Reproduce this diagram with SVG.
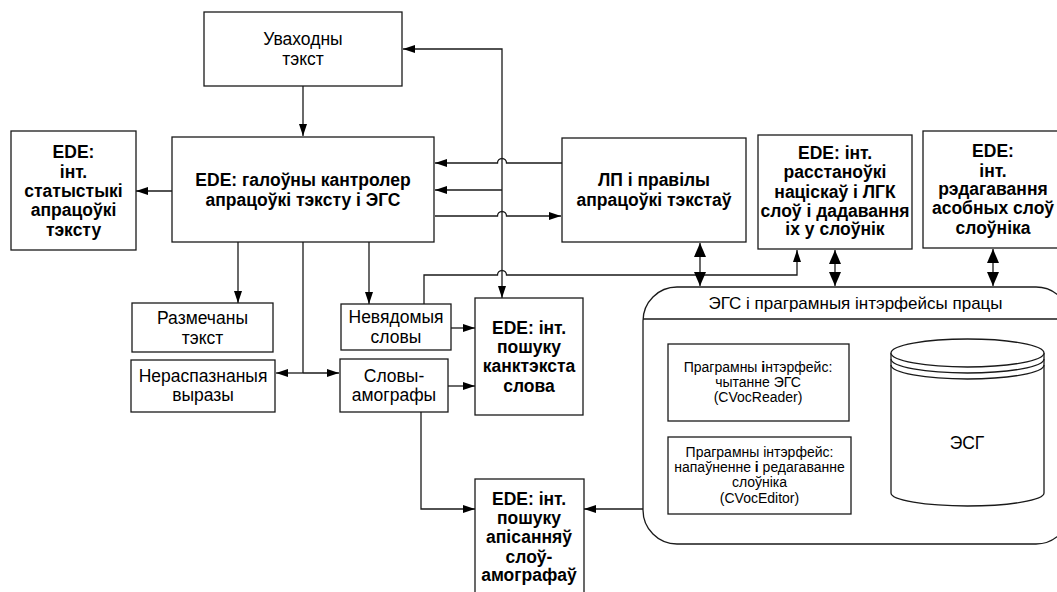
<svg xmlns="http://www.w3.org/2000/svg" width="1057" height="592" viewBox="0 0 1057 592">
<style>
.box{fill:#fff;stroke:#1a1a1a;stroke-width:1.3}
.ln{fill:none;stroke:#1a1a1a;stroke-width:1.3}
.b{font-family:"Liberation Sans",Arial,sans-serif;font-weight:bold;font-size:17.5px;text-anchor:middle;fill:#000}
.r{font-family:"Liberation Sans",Arial,sans-serif;font-size:17.5px;text-anchor:middle;fill:#000}
.h{font-family:"Liberation Sans",Arial,sans-serif;font-size:17px;text-anchor:middle;fill:#000}
.s{font-family:"Liberation Sans",Arial,sans-serif;font-size:14px;text-anchor:middle;fill:#000}
</style>
<defs>
<marker id="a" markerUnits="userSpaceOnUse" markerWidth="12" markerHeight="8" refX="12" refY="4" orient="auto-start-reverse"><path d="M0,0 L12,4 L0,8 z" fill="#000"/></marker>
<marker id="d" markerUnits="userSpaceOnUse" markerWidth="14" markerHeight="12" refX="14" refY="6" orient="auto-start-reverse"><path d="M0,0 L14,6 L0,12 z" fill="#000"/></marker>
</defs>
<rect width="1057" height="592" fill="#fff"/>

<g id="connectors">
<path class="ln" d="M303,86 V136" marker-end="url(#a)"/>
<path class="ln" d="M172,191 H136" marker-end="url(#a)"/>
<path class="ln" d="M562,163 H506.5 A4.5,4.5 0 0 0 497.5,163 H435" marker-end="url(#a)"/>
<path class="ln" d="M435,216 H497.5 A4.5,4.5 0 0 1 506.5,216 H561" marker-end="url(#a)"/>
<path class="ln" d="M502,190 V49 H403" marker-end="url(#a)"/>
<path class="ln" d="M502,190 H435" marker-end="url(#a)"/>
<path class="ln" d="M502,190 V298" marker-end="url(#a)"/>
<path class="ln" d="M238,242 V303" marker-end="url(#a)"/>
<path class="ln" d="M303,242 V373"/>
<path class="ln" d="M303,373 H276" marker-end="url(#a)"/>
<path class="ln" d="M303,373 H339" marker-end="url(#a)"/>
<path class="ln" d="M369,242 V304" marker-end="url(#a)"/>
<path class="ln" d="M424,304 V275 H497.5 A4.5,4.5 0 0 1 506.5,275 H797 V250" marker-end="url(#a)"/>
<path class="ln" d="M451,328 H475" marker-end="url(#a)"/>
<path class="ln" d="M448,386 H475" marker-end="url(#a)"/>
<path class="ln" d="M421,412 V509 H475" marker-end="url(#a)"/>
<path class="ln" d="M643,509 H584" marker-end="url(#a)"/>
<path class="ln" d="M700,243 V286" marker-start="url(#d)" marker-end="url(#d)"/>
<path class="ln" d="M835,250 V286" marker-start="url(#d)" marker-end="url(#d)"/>
<path class="ln" d="M993,249 V286" marker-start="url(#d)" marker-end="url(#d)"/>
<path class="ln" d="M851,456 H868 V423 H890" marker-end="url(#a)"/>
<path class="ln" d="M868,423 V402 H850" marker-end="url(#a)"/>
</g>

<g id="input">
<rect class="box" x="204" y="12" width="198" height="74"/>
<text class="r" x="303" y="45">Уваходны</text>
<text class="r" x="303" y="65">тэкст</text>
</g>

<g id="main">
<rect class="box" x="172" y="137" width="262" height="105"/>
<text class="b" x="303" y="186">EDE: галоўны кантролер</text>
<text class="b" x="303" y="206">апрацоўкі тэксту і ЭГС</text>
</g>

<g id="stats">
<rect class="box" x="11" y="131" width="125" height="119"/>
<text class="b" x="73.5" y="158">EDE:</text>
<text class="b" x="73.5" y="178">інт.</text>
<text class="b" x="73.5" y="197">статыстыкі</text>
<text class="b" x="73.5" y="216">апрацоўкі</text>
<text class="b" x="73.5" y="236">тэксту</text>
</g>

<g id="lp">
<rect class="box" x="562" y="138" width="184" height="104"/>
<text class="b" x="654" y="186">ЛП і правілы</text>
<text class="b" x="654" y="206">апрацоўкі тэкстаў</text>
</g>

<g id="stress">
<rect class="box" x="758" y="135" width="154" height="114"/>
<text class="b" x="835" y="159">EDE: інт.</text>
<text class="b" x="835" y="178">расстаноўкі</text>
<text class="b" x="835" y="198">націскаў і ЛГК</text>
<text class="b" x="835" y="217">слоў і дадавання</text>
<text class="b" x="835" y="235">іх у слоўнік</text>
</g>

<g id="edit">
<rect class="box" x="923" y="131" width="150" height="117"/>
<text class="b" x="993" y="157">EDE:</text>
<text class="b" x="993" y="177">інт.</text>
<text class="b" x="993" y="195">рэдагавання</text>
<text class="b" x="993" y="214">асобных слоў</text>
<text class="b" x="993" y="234">слоўніка</text>
</g>

<g id="marked">
<rect class="box" x="132" y="303" width="141" height="49"/>
<text class="r" x="202.5" y="324">Размечаны</text>
<text class="r" x="202.5" y="344">тэкст</text>
</g>

<g id="unrecognized">
<rect class="box" x="131" y="360" width="144" height="52"/>
<text class="r" x="203" y="382">Нераспазнаныя</text>
<text class="r" x="203" y="401">выразы</text>
</g>

<g id="unknown">
<rect class="box" x="341" y="304" width="110" height="46"/>
<text class="r" x="396" y="323">Невядомыя</text>
<text class="r" x="396" y="343">словы</text>
</g>

<g id="homographs">
<rect class="box" x="340" y="359" width="108" height="53"/>
<text class="r" x="394" y="382">Словы-</text>
<text class="r" x="394" y="401">амографы</text>
</g>

<g id="context">
<rect class="box" x="475" y="298" width="108" height="117"/>
<text class="b" x="529" y="334">EDE: інт.</text>
<text class="b" x="529" y="353">пошуку</text>
<text class="b" x="529" y="372">канктэкста</text>
<text class="b" x="529" y="392">слова</text>
</g>

<g id="descr">
<rect class="box" x="475" y="479" width="109" height="120"/>
<text class="b" x="529" y="505">EDE: інт.</text>
<text class="b" x="529" y="524">пошуку</text>
<text class="b" x="529" y="543">апісанняў</text>
<text class="b" x="529" y="563">слоў-</text>
<text class="b" x="529" y="581">амографаў</text>
</g>

<g id="container">
<rect class="box" x="643" y="287" width="427" height="257" rx="34" ry="34"/>
<line class="ln" x1="643" y1="319" x2="1070" y2="319"/>
<text class="h" x="855.5" y="309">ЭГС і праграмныя інтэрфейсы працы</text>
</g>

<g id="reader">
<rect class="box" x="668" y="344" width="181" height="77"/>
<text class="s" x="758" y="372">Праграмны <tspan font-weight="bold">і</tspan>нтэрфейс:</text>
<text class="s" x="758" y="387">чытанне ЭГС</text>
<text class="s" x="758" y="402">(CVocReader)</text>
</g>

<g id="editor">
<rect class="box" x="668" y="437" width="183" height="77"/>
<text class="s" x="759.5" y="457">Праграмны інтэрфейс:</text>
<text class="s" x="759.5" y="472">напаўненне <tspan font-weight="bold">і</tspan> редагаванне</text>
<text class="s" x="759.5" y="487">слоўніка</text>
<text class="s" x="759.5" y="503">(CVocEditor)</text>
</g>

<g id="db">
<path class="box" d="M891,353 V493 A76.5,13 0 0 0 1044,493 V353"/>
<ellipse class="box" cx="967.5" cy="353" rx="76.5" ry="14"/>
<path class="ln" d="M891,359 A76.5,14 0 0 0 1044,359"/>
<path class="ln" d="M891,365 A76.5,14 0 0 0 1044,365"/>
<text class="r" x="967" y="449">ЭСГ</text>
</g>
</svg>
